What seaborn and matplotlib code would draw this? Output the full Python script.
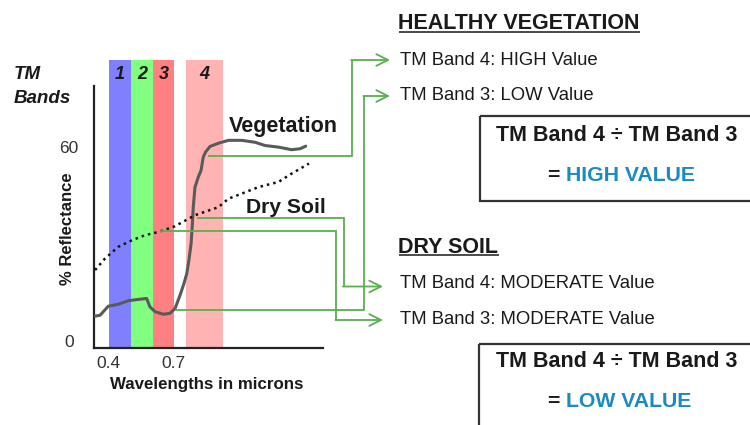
import matplotlib
matplotlib.use('Agg')
import matplotlib.pyplot as plt
from matplotlib.patches import Rectangle
import pandas as pd
import seaborn as sns

# spectral curves (wavelength in microns, % reflectance)
veg_wl = [0.339, 0.362, 0.400, 0.446, 0.492, 0.538, 0.577, 0.592, 0.616, 0.654,
          0.685, 0.708, 0.731, 0.749, 0.762, 0.772, 0.782, 0.788, 0.792, 0.800,
          0.815, 0.828, 0.838, 0.849, 0.869, 0.908, 0.954, 1.016, 1.077, 1.123,
          1.185, 1.246, 1.285, 1.311]
veg_refl = [7.7, 8.0, 10.8, 11.4, 12.5, 12.9, 13.2, 10.6, 9.1, 8.3,
            8.6, 10.1, 14.2, 17.8, 20.9, 25.1, 30.2, 36.4, 41.5, 47.7,
            50.8, 52.9, 57.0, 58.6, 60.3, 61.3, 62.2, 62.2, 61.6, 60.6,
            60.1, 59.3, 59.6, 60.4]
soil_wl = [0.339, 0.385, 0.446, 0.508, 0.569, 0.631, 0.708, 0.800, 0.908, 0.954,
           1.016, 1.092, 1.185, 1.246, 1.326]
soil_refl = [22.0, 25.6, 29.2, 31.2, 32.8, 33.8, 35.6, 39.0, 41.5, 44.1,
             45.7, 47.7, 49.3, 51.9, 55.0]

# TM bands
band_names = ['1', '2', '3', '4']
band_start = [0.403, 0.503, 0.606, 0.757]
band_end = [0.503, 0.606, 0.705, 0.928]
band_colors = ['#8080ff', '#80ff80', '#ff8080', '#ffb3b3']

# where the green leaders leave the curves (veg b4, veg b3, soil b4, soil b3)
probe_wl = [0.861, 0.708, 0.808, 0.639]
probe_refl = [57.5, 9.6, 38.1, 34.0]

veg = pd.DataFrame({'wl': veg_wl, 'refl': veg_refl})
soil = pd.DataFrame({'wl': soil_wl, 'refl': soil_refl})

sns.set_theme(style='white')
plt.rcParams['font.family'] = ['Liberation Sans', 'DejaVu Sans']

W, H = 750, 425
GREEN = '#56b04c'
INK = '#1a1a1a'
BLUE = '#1b8ac2'

fig = plt.figure(figsize=(7.5, 4.25), dpi=100)
ax = fig.add_axes([93.5 / W, (H - 347.5) / H, (323.3 - 93.5) / W, (347.5 - 60) / H])
over = fig.add_axes([0, 0, 1, 1], facecolor='none')
over.set_xlim(0, W)
over.set_ylim(H, 0)
over.axis('off')

# bands
for name, b0, b1, c in zip(band_names, band_start, band_end, band_colors):
    ax.axvspan(b0, b1, color=c, lw=0, zorder=0)
    ax.text((b0 + b1) / 2, 0.933, name, transform=ax.get_xaxis_transform(),
            ha='center', va='baseline', fontsize=13, fontweight='bold',
            fontstyle='italic', color=INK)

sns.lineplot(data=veg, x='wl', y='refl', ax=ax, color='#5a5a5a', lw=2.2,
             sort=False, estimator=None, zorder=3)
sns.lineplot(data=soil, x='wl', y='refl', ax=ax, color='#111111', lw=1.8,
             linestyle=(0, (1, 1.6)), sort=False, estimator=None, zorder=3)

ax.set_xlim(0.3317, 1.392)
ax.set_ylim(-2.0, 87.1)
ax.set_xticks([0.4, 0.7])
ax.set_xticklabels(['0.4', '0.7'])
ax.set_yticks([0, 60])
ax.set_yticklabels(['0', '60'])
ax.tick_params(axis='both', length=0, labelsize=12.5, labelcolor='#333333')
ax.tick_params(axis='x', pad=6)
ax.tick_params(axis='y', pad=17.6)
for lab in ax.get_yticklabels():
    lab.set_ha('center')
for side in ['top', 'right']:
    ax.spines[side].set_visible(False)
for side in ['left', 'bottom']:
    ax.spines[side].set_linewidth(1.6)
    ax.spines[side].set_color('#222222')
ax.spines['left'].set_bounds(-2.0, 79.1)
ax.patch.set_alpha(0)

ax.set_xlabel('Wavelengths in microns', fontsize=12.2, fontweight='bold', color=INK)
ax.xaxis.label.set_va('baseline')
ax.xaxis.set_label_coords(206.7, 389.3, transform=over.transData)
ax.set_ylabel('% Reflectance', fontsize=12, fontweight='bold', color=INK)
ax.yaxis.label.set_va('baseline')
ax.yaxis.set_label_coords(71.7, 229, transform=over.transData)

# curve and band labels
over.text(14, 79.3, 'TM', fontsize=13.5, fontweight='bold', fontstyle='italic',
          color=INK, va='baseline')
over.text(14, 102.7, 'Bands', fontsize=13.5, fontweight='bold', fontstyle='italic',
          color=INK, va='baseline')
over.text(229, 131.7, 'Vegetation', fontsize=15.5, fontweight='bold', color=INK,
          va='baseline')
over.text(246, 212.7, 'Dry Soil', fontsize=15.2, fontweight='bold', color=INK,
          va='baseline')

# green leaders from the curves to the notes
elbow_x = [351.7, 364, 343.5, 336]
arrow_y = [60, 96, 286.5, 320]
arrow_end = [390, 390, 383, 383]
to_over = over.transData.inverted()
for wl, rf, ex, ay, ax_end in zip(probe_wl, probe_refl, elbow_x, arrow_y, arrow_end):
    sx, sy = to_over.transform(ax.transData.transform((wl, rf)))
    over.plot([sx, ex, ex], [sy, sy, ay], color=GREEN, lw=1.3,
              solid_joinstyle='miter', solid_capstyle='butt')
    over.annotate('', xy=(ax_end, ay), xytext=(ex - 0.6, ay),
                  arrowprops=dict(arrowstyle='->,head_length=0.7,head_width=0.35',
                                  color=GREEN, lw=1.3, shrinkA=0, shrinkB=0))

# notes on the right
hv = over.text(398.5, 29.3, 'HEALTHY VEGETATION', fontsize=15.5, fontweight='bold',
               color=INK, va='baseline')
over.text(400, 65, 'TM Band 4: HIGH Value', fontsize=13.3, color=INK, va='baseline')
over.text(400, 100, 'TM Band 3: LOW Value', fontsize=13.3, color=INK, va='baseline')
ds = over.text(398.5, 253.3, 'DRY SOIL', fontsize=15.5, fontweight='bold',
               color=INK, va='baseline')
over.text(400, 288.3, 'TM Band 4: MODERATE Value', fontsize=13.3, color=INK, va='baseline')
over.text(400, 324, 'TM Band 3: MODERATE Value', fontsize=13.3, color=INK, va='baseline')

fig.canvas.draw()
rend = fig.canvas.get_renderer()
for t, uy in [(hv, 31.9), (ds, 255.3)]:
    bb = t.get_window_extent(rend)
    x0 = to_over.transform((bb.x0, bb.y0))[0]
    x1 = to_over.transform((bb.x1, bb.y0))[0]
    over.plot([x0, x1], [uy, uy], color=INK, lw=1.1, solid_capstyle='butt')

# ratio boxes
over.add_patch(Rectangle((480, 115.7), 320, 85, fill=False, ec='#333333', lw=1.6))
over.add_patch(Rectangle((479, 344), 320, 120, fill=False, ec='#333333', lw=1.6))
for top, word in [(140.7, 'HIGH VALUE'), (367.3, 'LOW VALUE')]:
    over.text(616.5, top, 'TM Band 4 \u00f7 TM Band 3', fontsize=15.5, fontweight='bold',
              color=INK, ha='center', va='baseline')
    over.text(547, top + 40, '=', fontsize=15.3, fontweight='bold', color=INK,
              va='baseline')
    over.text(566, top + 40, word, fontsize=15.3, fontweight='bold', color=BLUE,
              va='baseline')

fig.savefig('out.png', dpi=100)
